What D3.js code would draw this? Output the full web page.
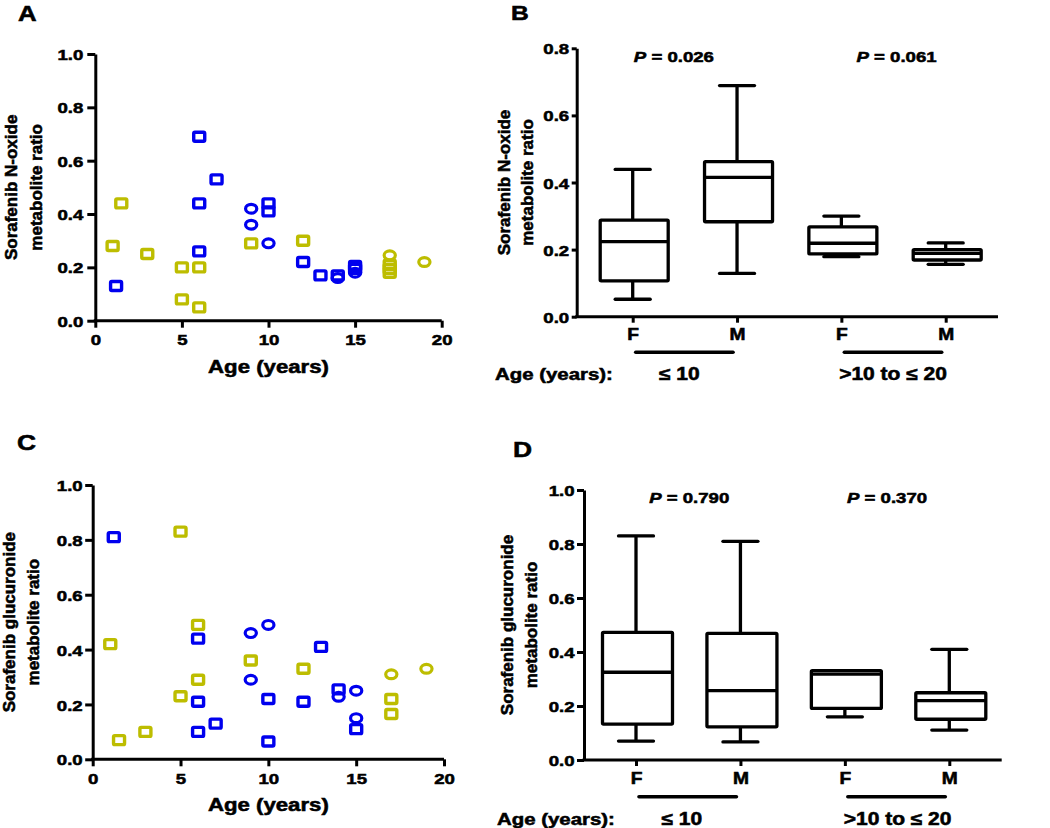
<!DOCTYPE html>
<html><head><meta charset="utf-8">
<script src="https://cdn.jsdelivr.net/npm/d3@7"></script>
<style>
html,body{margin:0;padding:0;background:#fff;}
svg{display:block;}
text{font-family:"Liberation Sans",Arial,sans-serif;font-weight:bold;fill:#000;stroke:#000;stroke-width:0.55px;}
</style></head><body>
<script>
// ---------------- DATA ----------------
// Panel A: Sorafenib N-oxide metabolite ratio vs age
const A_yellowSquares = [[1,0.28],[1.5,0.44],[3,0.25],[5,0.20],[5,0.08],[6,0.20],[6,0.05],[9,0.29],[12,0.30],[17,0.21],[17,0.195],[17,0.18]];
const A_yellowCircles = [[17,0.245],[19,0.22]];
const A_blueSquares = [[1.2,0.13],[6,0.69],[6,0.44],[6,0.26],[7,0.53],[10,0.44],[10,0.41],[12,0.22],[13,0.17],[14,0.17],[15,0.205],[15,0.195]];
const A_blueCircles = [[9,0.42],[9,0.36],[10,0.29],[14,0.16],[15,0.18]];
// Panel C: Sorafenib glucuronide metabolite ratio vs age
const C_yellowSquares = [[1,0.42],[1.5,0.07],[3,0.10],[5,0.83],[5,0.23],[6,0.49],[6,0.29],[9,0.36],[12,0.33],[17,0.22],[17,0.165]];
const C_yellowCircles = [[17,0.31],[19,0.33]];
const C_blueSquares = [[1.2,0.81],[6,0.44],[6,0.21],[6,0.10],[7,0.13],[10,0.22],[10,0.065],[12,0.21],[13,0.41],[14,0.255],[15,0.11]];
const C_blueCircles = [[9,0.46],[9,0.29],[10,0.49],[14,0.228],[15,0.25],[15,0.15]];

const scatterXTicks = [0,5,10,15,20];
const scatterYTicks = [0,0.2,0.4,0.6,0.8,1.0];

// Box plots
const boxGroups = ["F1","M1","F2","M2"];
const boxSexLabels = ["F","M","F","M"];
const ageGroupLabels = ["\u2264 10", ">10 to \u2264 20"];
// Panel B (N-oxide)
const B_min = [0.052,0.129,0.179,0.156];
const B_q1  = [0.107,0.283,0.187,0.169];
const B_med = [0.224,0.415,0.219,0.189];
const B_q3  = [0.288,0.462,0.268,0.200];
const B_max = [0.439,0.689,0.300,0.220];
const B_pvals = ["0.026","0.061"];
const B_yTicks = [0,0.2,0.4,0.6,0.8];
// Panel D (glucuronide)
const D_min = [0.070,0.067,0.160,0.111];
const D_q1  = [0.133,0.123,0.191,0.151];
const D_med = [0.325,0.257,0.318,0.220];
const D_q3  = [0.473,0.469,0.331,0.249];
const D_max = [0.830,0.810,0.331,0.410];
const D_pvals = ["0.790","0.370"];
const D_yTicks = [0,0.2,0.4,0.6,0.8,1.0];

// ---------------- STYLE ----------------
const SX = 1.2; // horizontal stretch of text in the original figure
const BLUE = "#0000ee", YELLOW = "#bdbd00";
const fmt = d3.format(".1f");

const svg = d3.select("body").append("svg").attr("width",1050).attr("height",828);

function sText(g, x, y, str, size, anchor){
  return g.append("text")
    .attr("transform",`translate(${x},${y}) scale(${SX},1)`)
    .attr("text-anchor",anchor||"start")
    .style("font-size",size+"px")
    .text(str);
}
function stretchAxisText(axisG){
  axisG.selectAll(".tick text").each(function(){
    const t = d3.select(this);
    const x = t.attr("x");
    if (x !== null) t.attr("x", +x/SX);
    t.attr("transform",`scale(${SX},1)`);
  });
}
function styleAxis(axisG, fs){
  axisG.selectAll("path,line").attr("stroke","#000").attr("stroke-width",3);
  axisG.selectAll("text").style("font-size",fs+"px").style("font-family",'"Liberation Sans",Arial,sans-serif').style("font-weight","bold").attr("fill","#000");
  stretchAxisText(axisG);
}
function yTitle(g, x1, x2, yc, l1, l2, fs){
  g.append("text").attr("transform",`translate(${x1},${yc}) rotate(-90)`).attr("text-anchor","middle").style("font-size",fs+"px").text(l1);
  g.append("text").attr("transform",`translate(${x2},${yc}) rotate(-90)`).attr("text-anchor","middle").style("font-size",fs+"px").text(l2);
}

// ---------------- SCATTER PANELS ----------------
function scatter(cfg){
  const g = svg.append("g");
  const x = d3.scaleLinear().domain([0,20]).range(cfg.xr);
  const y = d3.scaleLinear().domain([0,1]).range(cfg.yr);
  const xa = g.append("g").attr("transform",`translate(0,${cfg.yr[0]})`)
    .call(d3.axisBottom(x).tickValues(scatterXTicks).tickSize(7).tickSizeOuter(0).tickPadding(cfg.xpad));
  xa.select(".domain").remove();
  g.append("line").attr("x1",x(0)-1.5).attr("x2",x(20)).attr("y1",y(0)).attr("y2",y(0)).attr("stroke","#000").attr("stroke-width",3);
  styleAxis(xa, 15.5);
  const ya = g.append("g").attr("transform",`translate(${cfg.xr[0]},0)`)
    .call(d3.axisLeft(y).tickValues(scatterYTicks).tickFormat(fmt).tickSize(cfg.ytick).tickSizeOuter(0).tickPadding(cfg.ypad));
  styleAxis(ya, 15.5);
  ya.selectAll(".tick text").attr("dy","0.36em");

  const sqW = 11, sqH = 9;
  function squares(data, col){
    g.append("g").selectAll("rect").data(data).join("rect")
      .attr("x",d=>x(d[0])-sqW/2).attr("y",d=>y(d[1])-sqH/2)
      .attr("width",sqW).attr("height",sqH).attr("rx",1.2)
      .attr("fill","none").attr("stroke",col).attr("stroke-width",3.4);
  }
  function circles(data, col){
    g.append("g").selectAll("ellipse").data(data).join("ellipse")
      .attr("cx",d=>x(d[0])).attr("cy",d=>y(d[1])).attr("rx",5.6).attr("ry",4.4)
      .attr("fill","none").attr("stroke",col).attr("stroke-width",3.2);
  }
  squares(cfg.ys, YELLOW); circles(cfg.yc, YELLOW);
  squares(cfg.bs, BLUE); circles(cfg.bc, BLUE);

  sText(g, (cfg.xr[0]+cfg.xr[1])/2, cfg.xtitleY, "Age (years)", 18.5, "middle");
  yTitle(g, cfg.t1, cfg.t2, (cfg.yr[0]+cfg.yr[1])/2, cfg.l1, cfg.l2, 17);
  sText(g, cfg.lx, cfg.ly, cfg.letter, cfg.lfs);
}
scatter({xr:[95.3,441.7], yr:[320.7,54], xpad:6, ytick:8, ypad:4, xtitleY:372.5,
  t1:16.7, t2:41.7, l1:"Sorafenib N-oxide", l2:"metabolite ratio",
  ys:A_yellowSquares, yc:A_yellowCircles, bs:A_blueSquares, bc:A_blueCircles,
  letter:"A", lx:18, ly:20.7, lfs:21.5});
scatter({xr:[92.7,444], yr:[759.3,485], xpad:7, ytick:7.5, ypad:2.5, xtitleY:810.5,
  t1:15, t2:39.3, l1:"Sorafenib glucuronide", l2:"metabolite ratio",
  ys:C_yellowSquares, yc:C_yellowCircles, bs:C_blueSquares, bc:C_blueCircles,
  letter:"C", lx:17, ly:450, lfs:22});

// ---------------- BOX PANELS ----------------
function boxPanel(cfg){
  const g = svg.append("g");
  const x = d3.scalePoint().domain(boxGroups).range(cfg.cr);
  const y = d3.scaleLinear().domain([0,cfg.ymax]).range(cfg.yr);
  const xa = g.append("g").attr("transform",`translate(0,${cfg.yr[0]})`)
    .call(d3.axisBottom(x).tickFormat((d,i)=>boxSexLabels[i]).tickSize(6).tickSizeOuter(0).tickPadding(cfg.xpad));
  xa.select(".domain").remove();
  g.append("line").attr("x1",cfg.ax-1.5).attr("x2",cfg.xEnd).attr("y1",cfg.yr[0]).attr("y2",cfg.yr[0]).attr("stroke","#000").attr("stroke-width",3);
  styleAxis(xa, 16);
  const ya = g.append("g").attr("transform",`translate(${cfg.ax},0)`)
    .call(d3.axisLeft(y).tickValues(cfg.yTicks).tickFormat(fmt).tickSize(cfg.ytick).tickSizeOuter(0).tickPadding(2.5));
  styleAxis(ya, 15.5);
  ya.selectAll(".tick text").attr("dy","0.36em");

  const bw = cfg.bw, cw = 35;
  const idx = d3.range(boxGroups.length);
  const bg = g.append("g").attr("fill","none").attr("stroke","#000").attr("stroke-width",3.3);
  const item = bg.selectAll("g").data(idx).join("g");
  // whiskers
  item.append("line").attr("x1",i=>x(boxGroups[i])).attr("x2",i=>x(boxGroups[i]))
    .attr("y1",i=>y(cfg.max[i])).attr("y2",i=>y(cfg.q3[i]));
  item.append("line").attr("x1",i=>x(boxGroups[i])).attr("x2",i=>x(boxGroups[i]))
    .attr("y1",i=>y(cfg.q1[i])).attr("y2",i=>y(cfg.min[i]));
  // caps
  item.append("line").attr("x1",i=>x(boxGroups[i])-cw/2).attr("x2",i=>x(boxGroups[i])+cw/2)
    .attr("y1",i=>y(cfg.max[i])).attr("y2",i=>y(cfg.max[i])).attr("stroke-linecap","round");
  item.append("line").attr("x1",i=>x(boxGroups[i])-cw/2).attr("x2",i=>x(boxGroups[i])+cw/2)
    .attr("y1",i=>y(cfg.min[i])).attr("y2",i=>y(cfg.min[i])).attr("stroke-linecap","round");
  // box
  item.append("rect").attr("x",i=>x(boxGroups[i])-bw/2+1.5).attr("width",bw)
    .attr("y",i=>y(cfg.q3[i])).attr("height",i=>y(cfg.q1[i])-y(cfg.q3[i])).attr("fill","#fff").attr("rx",1);
  // median
  item.append("line").attr("x1",i=>x(boxGroups[i])-bw/2+1.5).attr("x2",i=>x(boxGroups[i])+bw/2+1.5)
    .attr("y1",i=>y(cfg.med[i])).attr("y2",i=>y(cfg.med[i]));

  // group underline bars and labels
  const pairs = [[0,1],[2,3]];
  pairs.forEach((p,k)=>{
    const x1 = x(boxGroups[p[0]])+3, x2 = x(boxGroups[p[1]])-4;
    g.append("line").attr("x1",x1).attr("x2",x2).attr("y1",cfg.barY).attr("y2",cfg.barY)
      .attr("stroke","#000").attr("stroke-width",3.6).attr("stroke-linecap","round");
    sText(g, (x1+x2)/2 + cfg.glOff[k], cfg.ageY, ageGroupLabels[k], 17.5, "middle");
    const pt = g.append("text").attr("transform",`translate(${(x(boxGroups[p[0]])+x(boxGroups[p[1]]))/2 + cfg.pOff[k]},${cfg.pY}) scale(${SX},1)`)
      .attr("text-anchor","middle").style("font-size","15.5px");
    pt.append("tspan").style("font-style","italic").text("P");
    pt.append("tspan").text(" = " + cfg.pvals[k]);
  });
  sText(g, cfg.ageLX, cfg.ageY, "Age (years):", 17, "start");
  yTitle(g, cfg.t1, cfg.t2, (cfg.yr[0]+cfg.yr[1])/2, cfg.l1, cfg.l2, 17);
  sText(g, cfg.lx, cfg.ly, cfg.letter, cfg.lfs);
}
boxPanel({cr:[632.7,945.7], yr:[316.7,48.3], ymax:0.8, yTicks:B_yTicks, ax:576.7, xEnd:998, xpad:5.5, ytick:5, bw:68,
  min:B_min, q1:B_q1, med:B_med, q3:B_q3, max:B_max, pvals:B_pvals, pY:62.3, pOff:[-11,3],
  barY:352.3, ageY:380, ageLX:495, glOff:[-5,0],
  t1:510, t2:532.7, l1:"Sorafenib N-oxide", l2:"metabolite ratio", letter:"B", lx:511, ly:19.5, lfs:20.5});
boxPanel({cr:[636,949.3], yr:[760,490], ymax:1.0, yTicks:D_yTicks, ax:584, xEnd:1001.7, xpad:6.5, ytick:7, bw:70,
  min:D_min, q1:D_q1, med:D_med, q3:D_q3, max:D_max, pvals:D_pvals, pY:502.7, pOff:[1,-10],
  barY:796.7, ageY:825, ageLX:497, glOff:[-6,1],
  t1:513.3, t2:536.7, l1:"Sorafenib glucuronide", l2:"metabolite ratio", letter:"D", lx:513, ly:456.7, lfs:22});
</script>
</body></html>
